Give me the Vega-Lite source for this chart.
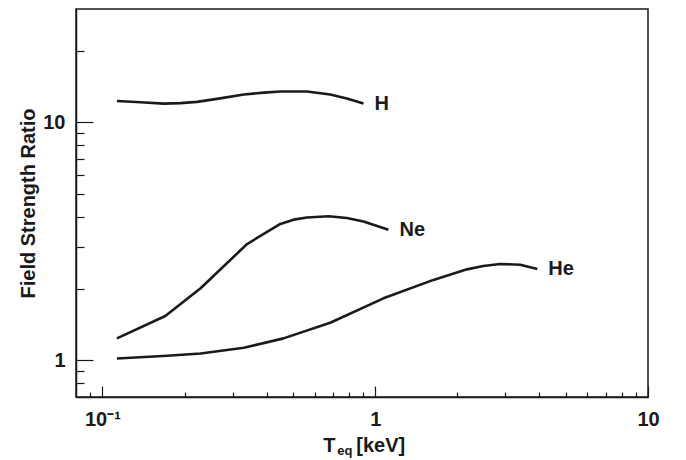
{
  "$schema": "https://vega.github.io/schema/vega-lite/v6.json",
  "width": 572,
  "height": 388,
  "autosize": {"type": "none"},
  "padding": {"left": 76, "top": 9, "right": 38, "bottom": 63},
  "background": "white",
  "config": {
    "view": {"stroke": "#1a1a1a", "strokeWidth": 1.5},
    "font": "Liberation Sans",
    "axis": {"grid": false, "domainColor": "#1a1a1a", "domainWidth": 1.5, "tickColor": "#1a1a1a", "tickWidth": 1.2, "labelFont": "Liberation Sans", "labelFontWeight": "bold", "labelFontSize": 20, "labelColor": "#1a1a1a", "titleFont": "Liberation Sans", "titleFontWeight": "bold", "titleFontSize": 20, "titleColor": "#1a1a1a"}
  },
  "data": {
    "values": [
      {"element": "H", "T": 0.113, "ratio": 12.3},
      {"element": "H", "T": 0.138, "ratio": 12.15},
      {"element": "H", "T": 0.168, "ratio": 12.0},
      {"element": "H", "T": 0.193, "ratio": 12.06},
      {"element": "H", "T": 0.222, "ratio": 12.2},
      {"element": "H", "T": 0.270, "ratio": 12.62},
      {"element": "H", "T": 0.330, "ratio": 13.1},
      {"element": "H", "T": 0.390, "ratio": 13.35},
      {"element": "H", "T": 0.449, "ratio": 13.5},
      {"element": "H", "T": 0.562, "ratio": 13.5},
      {"element": "H", "T": 0.684, "ratio": 13.1},
      {"element": "H", "T": 0.787, "ratio": 12.62},
      {"element": "H", "T": 0.906, "ratio": 12.0},
      {"element": "Ne", "T": 0.113, "ratio": 1.235},
      {"element": "Ne", "T": 0.170, "ratio": 1.534},
      {"element": "Ne", "T": 0.229, "ratio": 2.007},
      {"element": "Ne", "T": 0.339, "ratio": 3.08},
      {"element": "Ne", "T": 0.449, "ratio": 3.74},
      {"element": "Ne", "T": 0.502, "ratio": 3.90},
      {"element": "Ne", "T": 0.562, "ratio": 3.98},
      {"element": "Ne", "T": 0.675, "ratio": 4.03},
      {"element": "Ne", "T": 0.787, "ratio": 3.96},
      {"element": "Ne", "T": 0.906, "ratio": 3.83},
      {"element": "Ne", "T": 1.118, "ratio": 3.54},
      {"element": "He", "T": 0.113, "ratio": 1.017},
      {"element": "He", "T": 0.173, "ratio": 1.043},
      {"element": "He", "T": 0.229, "ratio": 1.067},
      {"element": "He", "T": 0.330, "ratio": 1.127},
      {"element": "He", "T": 0.461, "ratio": 1.235},
      {"element": "He", "T": 0.684, "ratio": 1.437},
      {"element": "He", "T": 1.072, "ratio": 1.82},
      {"element": "He", "T": 1.635, "ratio": 2.176},
      {"element": "He", "T": 2.17, "ratio": 2.41},
      {"element": "He", "T": 2.49, "ratio": 2.49},
      {"element": "He", "T": 2.87, "ratio": 2.54},
      {"element": "He", "T": 3.40, "ratio": 2.52},
      {"element": "He", "T": 3.93, "ratio": 2.42}
    ]
  },
  "layer": [
    {
      "mark": {"type": "line", "interpolate": "linear", "color": "#1a1a1a", "strokeWidth": 2.6, "strokeJoin": "round", "strokeCap": "butt"},
      "encoding": {
        "x": {
          "field": "T", "type": "quantitative",
          "scale": {"type": "log", "domain": [0.08, 10], "nice": false},
          "axis": {
            "title": null,
            "values": [0.09, 0.1, 0.2, 0.3, 0.4, 0.5, 0.6, 0.7, 0.8, 0.9, 1, 2, 3, 4, 5, 6, 7, 8, 9, 10],
            "labelExpr": "datum.value == 0.1 ? '10⁻¹' : datum.value == 1 ? '1' : datum.value == 10 ? '10' : ''",
            "tickSize": {"condition": {"test": "datum.value == 0.1 || datum.value == 1 || datum.value == 10", "value": -11}, "value": -5},
            "labelPadding": 23,
            "labelFlush": false,
            "labelOverlap": false
          }
        },
        "y": {
          "field": "ratio", "type": "quantitative",
          "scale": {"type": "log", "domain": [0.7, 30], "nice": false},
          "axis": {
            "title": "Field Strength Ratio",
            "values": [0.8, 0.9, 1, 2, 3, 4, 5, 6, 7, 8, 9, 10, 20],
            "labelExpr": "datum.value == 1 ? '1' : datum.value == 10 ? '10' : ''",
            "tickSize": {"condition": {"test": "datum.value == 1 || datum.value == 10", "value": -17}, "value": -8},
            "labelPadding": 28,
            "titlePadding": 4,
            "labelFlush": false,
            "labelOverlap": false
          }
        },
        "detail": {"field": "element"}
      }
    },
    {
      "transform": [
        {"joinaggregate": [{"op": "max", "field": "T", "as": "Tmax"}], "groupby": ["element"]},
        {"filter": "datum.T == datum.Tmax"}
      ],
      "mark": {"type": "text", "align": "left", "baseline": "middle", "dx": 11, "font": "Liberation Sans", "fontWeight": "bold", "fontSize": 20, "color": "#1a1a1a"},
      "encoding": {
        "x": {"field": "T", "type": "quantitative"},
        "y": {"field": "ratio", "type": "quantitative"},
        "text": {"field": "element"}
      }
    },
    {
      "data": {"values": [{"part": "T"}]},
      "mark": {"type": "text", "align": "left", "baseline": "alphabetic", "font": "Liberation Sans", "fontWeight": "bold", "fontSize": 20, "color": "#1a1a1a"},
      "encoding": {
        "x": {"datum": 0.645, "type": "quantitative"},
        "y": {"datum": 0.4106, "type": "quantitative"},
        "text": {"field": "part"}
      }
    },
    {
      "data": {"values": [{"part": "eq"}]},
      "mark": {"type": "text", "align": "left", "baseline": "alphabetic", "dy": 3, "font": "Liberation Sans", "fontWeight": "bold", "fontSize": 13, "color": "#1a1a1a"},
      "encoding": {
        "x": {"datum": 0.726, "type": "quantitative"},
        "y": {"datum": 0.4106, "type": "quantitative"},
        "text": {"field": "part"}
      }
    },
    {
      "data": {"values": [{"part": "[keV]"}]},
      "mark": {"type": "text", "align": "left", "baseline": "alphabetic", "font": "Liberation Sans", "fontWeight": "bold", "fontSize": 20, "color": "#1a1a1a"},
      "encoding": {
        "x": {"datum": 0.852, "type": "quantitative"},
        "y": {"datum": 0.4106, "type": "quantitative"},
        "text": {"field": "part"}
      }
    }
  ]
}
